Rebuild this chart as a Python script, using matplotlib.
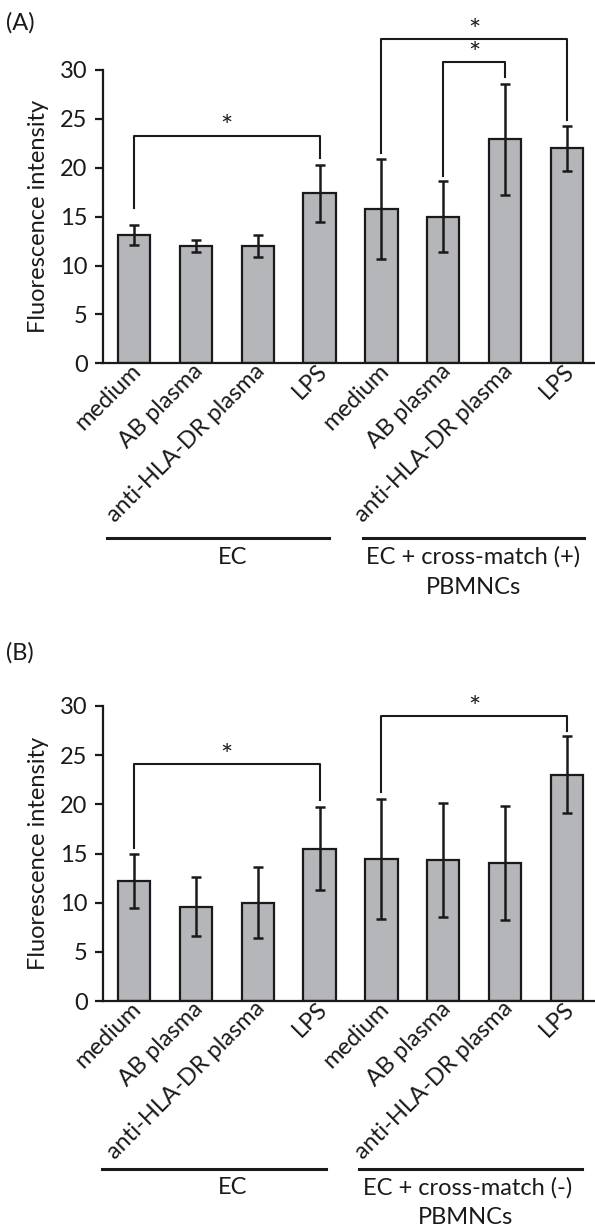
import matplotlib
matplotlib.use("Agg")
import matplotlib.pyplot as plt
from matplotlib.lines import Line2D
import matplotlib.transforms as mtransforms
import numpy as np

plt.rcParams['font.family'] = ['Lato', 'DejaVu Sans']

categories = ["medium", "AB plasma", "anti-HLA-DR plasma", "LPS",
              "medium", "AB plasma", "anti-HLA-DR plasma", "LPS"]
a_means = [13.1, 12.0, 12.0, 17.4, 15.8, 15.0, 22.9, 22.0]
a_err = [1.0, 0.6, 1.1, 2.9, 5.1, 3.6, 5.7, 2.3]
b_means = [12.2, 9.6, 10.0, 15.5, 14.4, 14.3, 14.0, 23.0]
b_err = [2.7, 3.0, 3.6, 4.2, 6.1, 5.8, 5.8, 3.9]
yticks = [0, 5, 10, 15, 20, 25, 30]
# significance brackets: (bar i, bar j, bracket height, left end, right end)
a_brackets = [(0, 3, 23.3, 15.85, 21.0), (4, 7, 33.2, 21.5, 24.9), (5, 6, 30.8, 19.15, 29.3)]
b_brackets = [(0, 3, 24.1, 15.6, 20.4), (4, 7, 29.0, 21.3, 27.5)]
group1 = "EC"
a_group2 = "EC + cross-match (+)"
b_group2 = "EC + cross-match (-)"
group2_line2 = "PBMNCs"

W, H = 595, 1227
fig = plt.figure(figsize=(W / 100, H / 100), dpi=100)
FS = 17
TXT = "#1a1a1a"
BAR_COLOR = "#b5b6b9"


def fx(px):
    return px / W


def fy(py):
    return 1 - py / H


def draw_panel(rect, means, errs, brackets):
    ax = fig.add_axes(rect)
    x = np.arange(len(means))
    ax.bar(x, means, width=0.52, color=BAR_COLOR, edgecolor=TXT, linewidth=1.6, zorder=2)
    ax.errorbar(x, means, yerr=errs, fmt="none", ecolor=TXT, elinewidth=1.8,
                capsize=3.6, capthick=1.8, zorder=3)
    ax.set_xlim(-0.5, 7.5)
    ax.set_ylim(0, 30)
    ax.set_yticks(yticks)
    ax.set_yticklabels([str(t) for t in yticks], fontsize=FS)
    for s in ["top", "right"]:
        ax.spines[s].set_visible(False)
    for s in ["left", "bottom"]:
        ax.spines[s].set_linewidth(1.6)
        ax.spines[s].set_color(TXT)
    ax.tick_params(axis="y", length=6, width=1.6, pad=5, colors=TXT)
    ax.tick_params(axis="x", length=0, pad=6)
    ax.set_xticks(x)
    labels = ax.set_xticklabels(categories, rotation=45, ha="right", va="center",
                                rotation_mode="anchor", fontsize=FS, color=TXT)
    off = mtransforms.ScaledTranslation(4 / 100, 4 / 100, fig.dpi_scale_trans)
    for lab in labels:
        lab.set_transform(lab.get_transform() + off)
    ax.set_ylabel("Fluorescence intensity", fontsize=FS, labelpad=8, color=TXT)
    for (i, j, h, le, re) in brackets:
        ax.plot([i, i, j, j], [le, h, h, re], color=TXT, lw=1.5, clip_on=False, zorder=4)
        ax.text((i + j) / 2, h - 0.6, "*", ha="center", va="bottom", fontsize=21,
                color=TXT, clip_on=False)
    return ax


axA = draw_panel([fx(103), fy(363.3), 495 / W, (363.3 - 70) / H], a_means, a_err, a_brackets)
axB = draw_panel([fx(103), fy(1001), 495 / W, (1001 - 706) / H], b_means, b_err, b_brackets)

fig.text(fx(6), fy(23), "(A)", fontsize=FS, ha="left", va="center", color=TXT)
fig.text(fx(6), fy(653), "(B)", fontsize=FS, ha="left", va="center", color=TXT)


def group_lines(yline, x1, x2, x3, x4, ytext, c1, c2, g2, ypb, cpb):
    fig.add_artist(Line2D([fx(x1), fx(x2)], [fy(yline), fy(yline)], color=TXT, lw=2.2))
    fig.add_artist(Line2D([fx(x3), fx(x4)], [fy(yline), fy(yline)], color=TXT, lw=2.2))
    fig.text(fx(c1), fy(ytext), group1, fontsize=FS, ha="center", va="center", color=TXT)
    fig.text(fx(c2), fy(ytext), g2, fontsize=FS, ha="center", va="center", color=TXT)
    fig.text(fx(cpb), fy(ypb), group2_line2, fontsize=FS, ha="center", va="center", color=TXT)


group_lines(538, 107, 329, 363, 584, 557, 233, 473, a_group2, 588, 474)
group_lines(1169, 102, 326, 359, 582, 1188, 233, 468, b_group2, 1217, 466)

fig.savefig("out.png", dpi=100)
